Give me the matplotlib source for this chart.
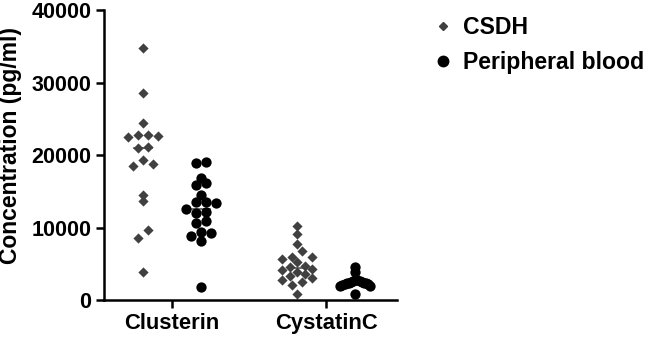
import numpy as np
import matplotlib
matplotlib.use("Agg")
import matplotlib.pyplot as plt
from matplotlib.lines import Line2D

plt.rcParams['font.family'] = ['Liberation Sans', 'DejaVu Sans']
plt.rcParams['font.weight'] = 'bold'

groups = ['Clusterin', 'CystatinC']
series = ['CSDH', 'Peripheral blood']

csdh_clusterin = [34700, 28500, 24400, 22500, 22600, 22700, 22800, 21100, 21000,
                  19300, 18700, 18500, 14500, 13700, 9700, 8600, 3900]
blood_clusterin = [19000, 18900, 16800, 16200, 15800, 14500, 13500, 13400, 13500,
                   12600, 12000, 12100, 10900, 10600, 9400, 8800, 9200, 8100, 1800]
csdh_cystatin = [10200, 9100, 7700, 6800, 6000, 5900, 5700, 5300, 4700, 4600,
                 4300, 4200, 3900, 3600, 3300, 3000, 2800, 2500, 2100, 800]
blood_cystatin = [4500, 3800, 2700, 2700, 2600, 2600, 2500, 2500, 2400, 2400,
                  2300, 2300, 2200, 2200, 2100, 2000, 1900, 800]

data = {
    'CSDH': [csdh_clusterin, csdh_cystatin],
    'Peripheral blood': [blood_clusterin, blood_cystatin],
}

# styling
group_x = [0.0, 2.66]
series_off = {'CSDH': -0.5, 'Peripheral blood': 0.5}
style = {
    'CSDH': dict(marker='D', s=27, color='#404040'),
    'Peripheral blood': dict(marker='o', s=55, color='black'),
}
step = 0.172      # horizontal spacing between neighbouring dots
bin_h = 1400      # vertical bin height (value units) for the dot rows
max_cols = 4


def swarm(vals, center):
    # prism-like layout: points sharing a row are spread sideways,
    # higher values towards the middle of the row
    vals = np.asarray(vals, dtype=float)
    xs = np.zeros_like(vals)
    bins = np.floor(vals / bin_h)
    for b in np.unique(bins):
        idx = np.where(bins == b)[0]
        idx = idx[np.argsort(vals[idx])]
        n = len(idx)
        sp = step if n <= max_cols else step * (max_cols - 1) / (n - 1)
        offs = (np.arange(n) - (n - 1) / 2) * sp
        if n > 2:
            order = np.argsort(-np.abs(offs), kind='stable')
            offs = offs[order]
        for k, i in enumerate(idx):
            xs[i] = center + offs[k]
    return xs


fig = plt.figure(figsize=(6.46, 3.38), dpi=100)
ax = fig.add_axes([0.161, 0.1124, 0.4536, 0.858])

for name in series:
    for gi, vals in enumerate(data[name]):
        cx = group_x[gi] + series_off[name]
        xs = swarm(vals, cx)
        med = np.median(vals)
        ax.plot([cx - 0.15, cx + 0.15], [med, med], color='#555555', lw=1.2, zorder=1)
        ax.scatter(xs, vals, linewidths=0, zorder=2, clip_on=False, **style[name])

ax.set_xlim(-1.17, 3.88)
ax.set_ylim(0, 40000)
ax.set_yticks([0, 10000, 20000, 30000, 40000])
ax.set_xticks(group_x)
ax.set_xticklabels(groups, fontsize=15.8, fontweight='bold')
for lab in ax.get_yticklabels():
    lab.set_fontsize(15.5)
    lab.set_fontweight('bold')
ax.tick_params(axis='both', length=6, width=1.8, pad=3)
for sp in ['top', 'right']:
    ax.spines[sp].set_visible(False)
for sp in ['left', 'bottom']:
    ax.spines[sp].set_linewidth(1.8)

ax.set_ylabel('Concentration (pg/ml)', fontsize=16.5, fontweight='bold')
ax.yaxis.set_label_coords(-0.28, 0.534)

handles = [
    Line2D([], [], ls='none', marker='D', ms=3.8, color='#404040'),
    Line2D([], [], ls='none', marker='o', ms=7.5, color='black'),
]
fig.legend(handles, series, loc='upper left', bbox_to_anchor=(0.668, 0.953),
           frameon=False, borderaxespad=0, borderpad=0, handlelength=1.0,
           handletextpad=0.37, labelspacing=0.52,
           prop=dict(size=16.6, weight='bold'))

fig.savefig('out.png', dpi=100)
